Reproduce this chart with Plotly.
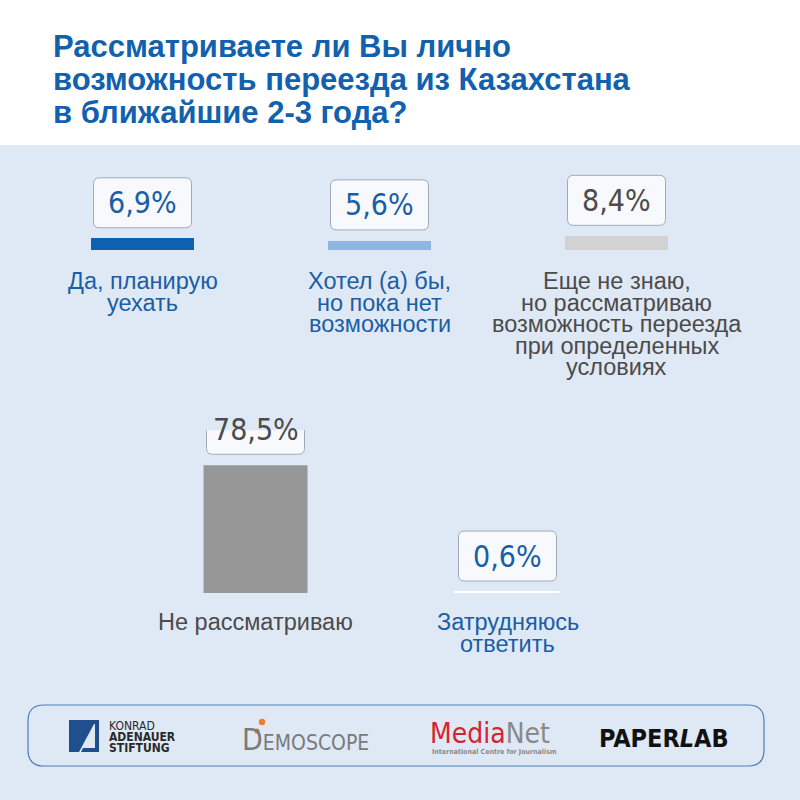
import plotly.graph_objects as go

# ---------------- data ----------------
title_lines = ["Рассматриваете ли Вы лично",
               "возможность переезда из Казахстана",
               "в ближайшие 2-3 года?"]

top_label_lines = [["Да, планирую", "уехать"],
                   ["Хотел (а) бы,", "но пока нет", "возможности"],
                   ["Еще не знаю,", "но рассматриваю", "возможность переезда",
                    "при определенных", "условиях"]]
top_values = [6.9, 5.6, 8.4]

bottom_label_lines = [["Не рассматриваю"],
                      ["Затрудняюсь", "ответить"]]
bottom_values = [78.5, 0.6]

# ---------------- styles ----------------
BG = "#dfe9f5"
BLUE = "#1a5ea6"
GREY_TXT = "#4b4b4b"
top_bar_colors = ["#0f60ae", "#8fb5e1", "#d2d2d2"]
bottom_bar_colors = ["#979797", "#ffffff"]
top_text_colors = [BLUE, BLUE, GREY_TXT]
bottom_text_colors = [GREY_TXT, BLUE]
top_label_colors = [BLUE, BLUE, GREY_TXT]
bottom_label_colors = [GREY_TXT, BLUE]

W = H = 800
PX_PER_PCT = 1.627
YMAX = 100.0
LABEL_FONT = "Liberation Sans, Arial, sans-serif"
VALUE_FONT = "DejaVu Sans Condensed, DejaVu Sans, sans-serif"

def fmt(v):
    return f"{v:.1f}".replace(".", ",") + "%"

top_cats = [" ".join(l) for l in top_label_lines]
bottom_cats = [" ".join(l) for l in bottom_label_lines]

fig = go.Figure()
fig.add_trace(go.Bar(x=top_cats, y=top_values, xaxis="x", yaxis="y",
                     width=0.435, marker=dict(color=top_bar_colors, line=dict(width=0)),
                     hoverinfo="skip", showlegend=False))
fig.add_trace(go.Bar(x=bottom_cats, y=bottom_values, xaxis="x2", yaxis="y2",
                     width=0.409,
                     marker=dict(color=bottom_bar_colors,
                                 line=dict(width=[0, 1.2], color="#ffffff")),
                     hoverinfo="skip", showlegend=False))

def ydom(base_px):
    lo = 1 - base_px / H
    return [lo, lo + YMAX * PX_PER_PCT / H]

ax_common = dict(showgrid=False, zeroline=False, showticklabels=False,
                 showline=False, ticks="", fixedrange=True)
fig.update_layout(
    width=W, height=H, margin=dict(l=0, r=0, t=0, b=0),
    paper_bgcolor=BG, plot_bgcolor="rgba(0,0,0,0)",
    bargap=0,
    xaxis=dict(domain=[24 / W, 735 / W], range=[-0.5, 2.5], anchor="y", **ax_common),
    yaxis=dict(domain=ydom(250), range=[0, YMAX], anchor="x", **ax_common),
    xaxis2=dict(domain=[129.5 / W, 633.5 / W], range=[-0.5, 1.5], anchor="y2", **ax_common),
    yaxis2=dict(domain=ydom(593), range=[0, YMAX], anchor="x2", **ax_common),
)

shapes = []
annotations = []

# header
shapes.append(dict(type="rect", xref="paper", yref="paper", x0=0, x1=1,
                   y0=1 - 145 / H, y1=1, fillcolor="#ffffff", line=dict(width=0), layer="below"))
for i, line in enumerate(title_lines):
    annotations.append(dict(xref="paper", yref="paper", x=51 / W, y=1 - (47 + 32.5 * i) / H,
                            xanchor="left", yanchor="middle", showarrow=False, text=f"<b>{line}</b>",
                            font=dict(family=LABEL_FONT, size=31, color="#1261ae")))

def rounded_path(x0, x1, y0, y1, r):
    return (f"M {x0+r},{y0} L {x1-r},{y0} Q {x1},{y0} {x1},{y0+r} "
            f"L {x1},{y1-r} Q {x1},{y1} {x1-r},{y1} L {x0+r},{y1} "
            f"Q {x0},{y1} {x0},{y1-r} L {x0},{y0+r} Q {x0},{y0} {x0+r},{y0} Z")

def add_row(xref, yref, values, label_lines, text_colors, label_colors, first_offset):
    for i, v in enumerate(values):
        shapes.append(dict(type="path", xref=xref, yref=yref, xsizemode="pixel", ysizemode="pixel",
                           xanchor=i, yanchor=v, path=rounded_path(-49, 49, 11, 61, 6),
                           fillcolor="#f7f9fc", line=dict(color="#9fabb9", width=1)))
        annotations.append(dict(xref=xref, yref=yref, x=i, y=v, yshift=36, showarrow=False,
                                xanchor="center", yanchor="middle", text=fmt(v),
                                font=dict(family=VALUE_FONT, size=30, color=text_colors[i])))
        for j, line in enumerate(label_lines[i]):
            annotations.append(dict(xref=xref, yref=yref, x=i, y=0,
                                    yshift=-(first_offset + 21.5 * j), showarrow=False,
                                    xanchor="center", yanchor="middle", text=line,
                                    font=dict(family=LABEL_FONT, size=23.5, color=label_colors[i])))

add_row("x", "y", top_values, top_label_lines, top_text_colors, top_label_colors, 31)
add_row("x2", "y2", bottom_values, bottom_label_lines, bottom_text_colors, bottom_label_colors, 29)

# logo strip
def P(x, y):
    return x / W, 1 - y / H
def paper_round(x0, x1, y0, y1, r):
    a = lambda x, y: "{:.5f},{:.5f}".format(*P(x, y))
    return (f"M {a(x0+r,y0)} L {a(x1-r,y0)} Q {a(x1,y0)} {a(x1,y0+r)} L {a(x1,y1-r)} "
            f"Q {a(x1,y1)} {a(x1-r,y1)} L {a(x0+r,y1)} Q {a(x0,y1)} {a(x0,y1-r)} "
            f"L {a(x0,y0+r)} Q {a(x0,y0)} {a(x0+r,y0)} Z")
shapes.append(dict(type="path", xref="paper", yref="paper", path=paper_round(28, 764, 705, 766, 16),
                   fillcolor="rgba(0,0,0,0)", line=dict(color="#4f7db4", width=1.2)))

# KAS logo
def poly(pts):
    return "M " + " L ".join("{:.5f},{:.5f}".format(*P(x, y)) for x, y in pts) + " Z"
shapes.append(dict(type="path", xref="paper", yref="paper",
                   path=poly([(69, 720), (99, 720), (99, 752), (69, 752)]),
                   fillcolor="#1f4f8c", line=dict(width=0)))
shapes.append(dict(type="path", xref="paper", yref="paper",
                   path=poly([(94, 724), (99, 724), (99, 752), (79, 752)]),
                   fillcolor=BG, line=dict(width=0)))
shapes.append(dict(type="path", xref="paper", yref="paper",
                   path=poly([(95, 724), (99, 724), (99, 752), (81, 752), (83, 748), (95, 748)]),
                   fillcolor="#1f4f8c", line=dict(width=0)))
for k, (t, b) in enumerate([("KONRAD", False), ("ADENAUER", True), ("STIFTUNG", True)]):
    x, y = P(107, 726 + 11 * k)
    annotations.append(dict(xref="paper", yref="paper", x=x, y=y, xanchor="left", yanchor="middle",
                            showarrow=False, text=f"<b>{t}</b>" if b else t,
                            font=dict(family=VALUE_FONT, size=12, color="#2a2a2a")))

# Demoscope
x, y = P(240, 739)
annotations.append(dict(xref="paper", yref="paper", x=x, y=y, xanchor="left", yanchor="middle",
                        showarrow=False, text="<span style='font-size:30px'>D</span>EMOSCOPE",
                        font=dict(family=VALUE_FONT, size=21, color="#7a7a7a")))
for (cx, cy, rr) in [(262, 722, 3.2), (257, 731, 2.6)]:
    (ax0, ay0), (ax1, ay1) = P(cx - rr, cy - rr), P(cx + rr, cy + rr)
    shapes.append(dict(type="circle", xref="paper", yref="paper", x0=ax0, x1=ax1, y0=ay1, y1=ay0,
                       fillcolor="#ef7d2a", line=dict(width=0)))

# MediaNet
x, y = P(428, 733)
annotations.append(dict(xref="paper", yref="paper", x=x, y=y, xanchor="left", yanchor="middle",
                        showarrow=False,
                        text="<span style='color:#d52430'>Media</span><span style='color:#8a8a8a'>Net</span>",
                        font=dict(family=VALUE_FONT, size=28)))
x, y = P(430, 752)
annotations.append(dict(xref="paper", yref="paper", x=x, y=y, xanchor="left", yanchor="middle",
                        showarrow=False, text="<b>International Centre for Journalism</b>",
                        font=dict(family=VALUE_FONT, size=7, color="#8a8a8a")))

# Paperlab
x, y = P(664, 738)
annotations.append(dict(xref="paper", yref="paper", x=x, y=y, xanchor="center", yanchor="middle",
                        showarrow=False, text="<b>PAPER<i>L</i>AB</b>",
                        font=dict(family=VALUE_FONT, size=25, color="#111111")))

fig.update_layout(shapes=shapes, annotations=annotations)
fig.write_html("out.html")
